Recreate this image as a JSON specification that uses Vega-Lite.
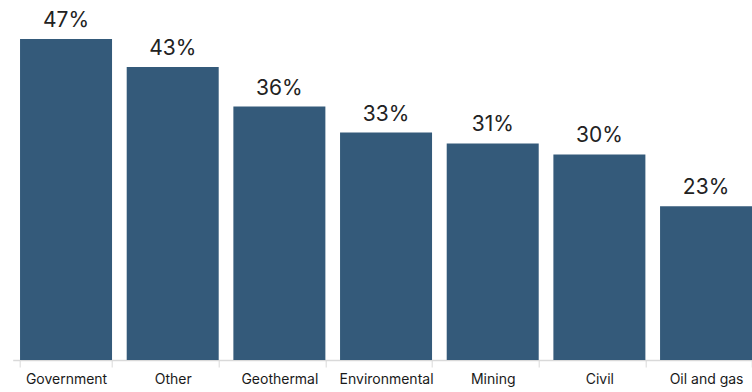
{
  "$schema": "https://vega.github.io/schema/vega-lite/v6.json",
  "width": 746.7,
  "height": 360,
  "autosize": {"type": "none"},
  "padding": {"left": 12.7, "top": 0, "right": 0, "bottom": 32},
  "background": "white",
  "config": {"view": {"stroke": null}, "font": "Inter"},
  "data": {
    "values": [
      {"sector": "Government", "value": 47.0, "label": "47%"},
      {"sector": "Other", "value": 42.9, "label": "43%"},
      {"sector": "Geothermal", "value": 37.1, "label": "36%"},
      {"sector": "Environmental", "value": 33.3, "label": "33%"},
      {"sector": "Mining", "value": 31.7, "label": "31%"},
      {"sector": "Civil", "value": 30.1, "label": "30%"},
      {"sector": "Oil and gas", "value": 22.5, "label": "23%"}
    ]
  },
  "encoding": {
    "x": {
      "field": "sector",
      "type": "nominal",
      "sort": null,
      "scale": {"paddingInner": 0.1375, "paddingOuter": 0.06875},
      "axis": {
        "title": null,
        "labelAngle": 0,
        "labelFont": "Inter",
        "labelFontSize": 14,
        "labelColor": "#1a1a1a",
        "labelPadding": 6,
        "tickBand": "extent",
        "tickColor": "#d9d9d9",
        "tickSize": 7,
        "domainColor": "#d9d9d9",
        "domainWidth": 1.5,
        "grid": false
      }
    },
    "y": {
      "field": "value",
      "type": "quantitative",
      "scale": {"domain": [0, 52.7], "nice": false},
      "axis": null
    }
  },
  "layer": [
    {"mark": {"type": "bar", "color": "#345A7A"}},
    {
      "mark": {"type": "text", "baseline": "alphabetic", "dy": -12, "fontSize": 21, "font": "Inter", "color": "#222222"},
      "encoding": {"text": {"field": "label"}}
    }
  ]
}
